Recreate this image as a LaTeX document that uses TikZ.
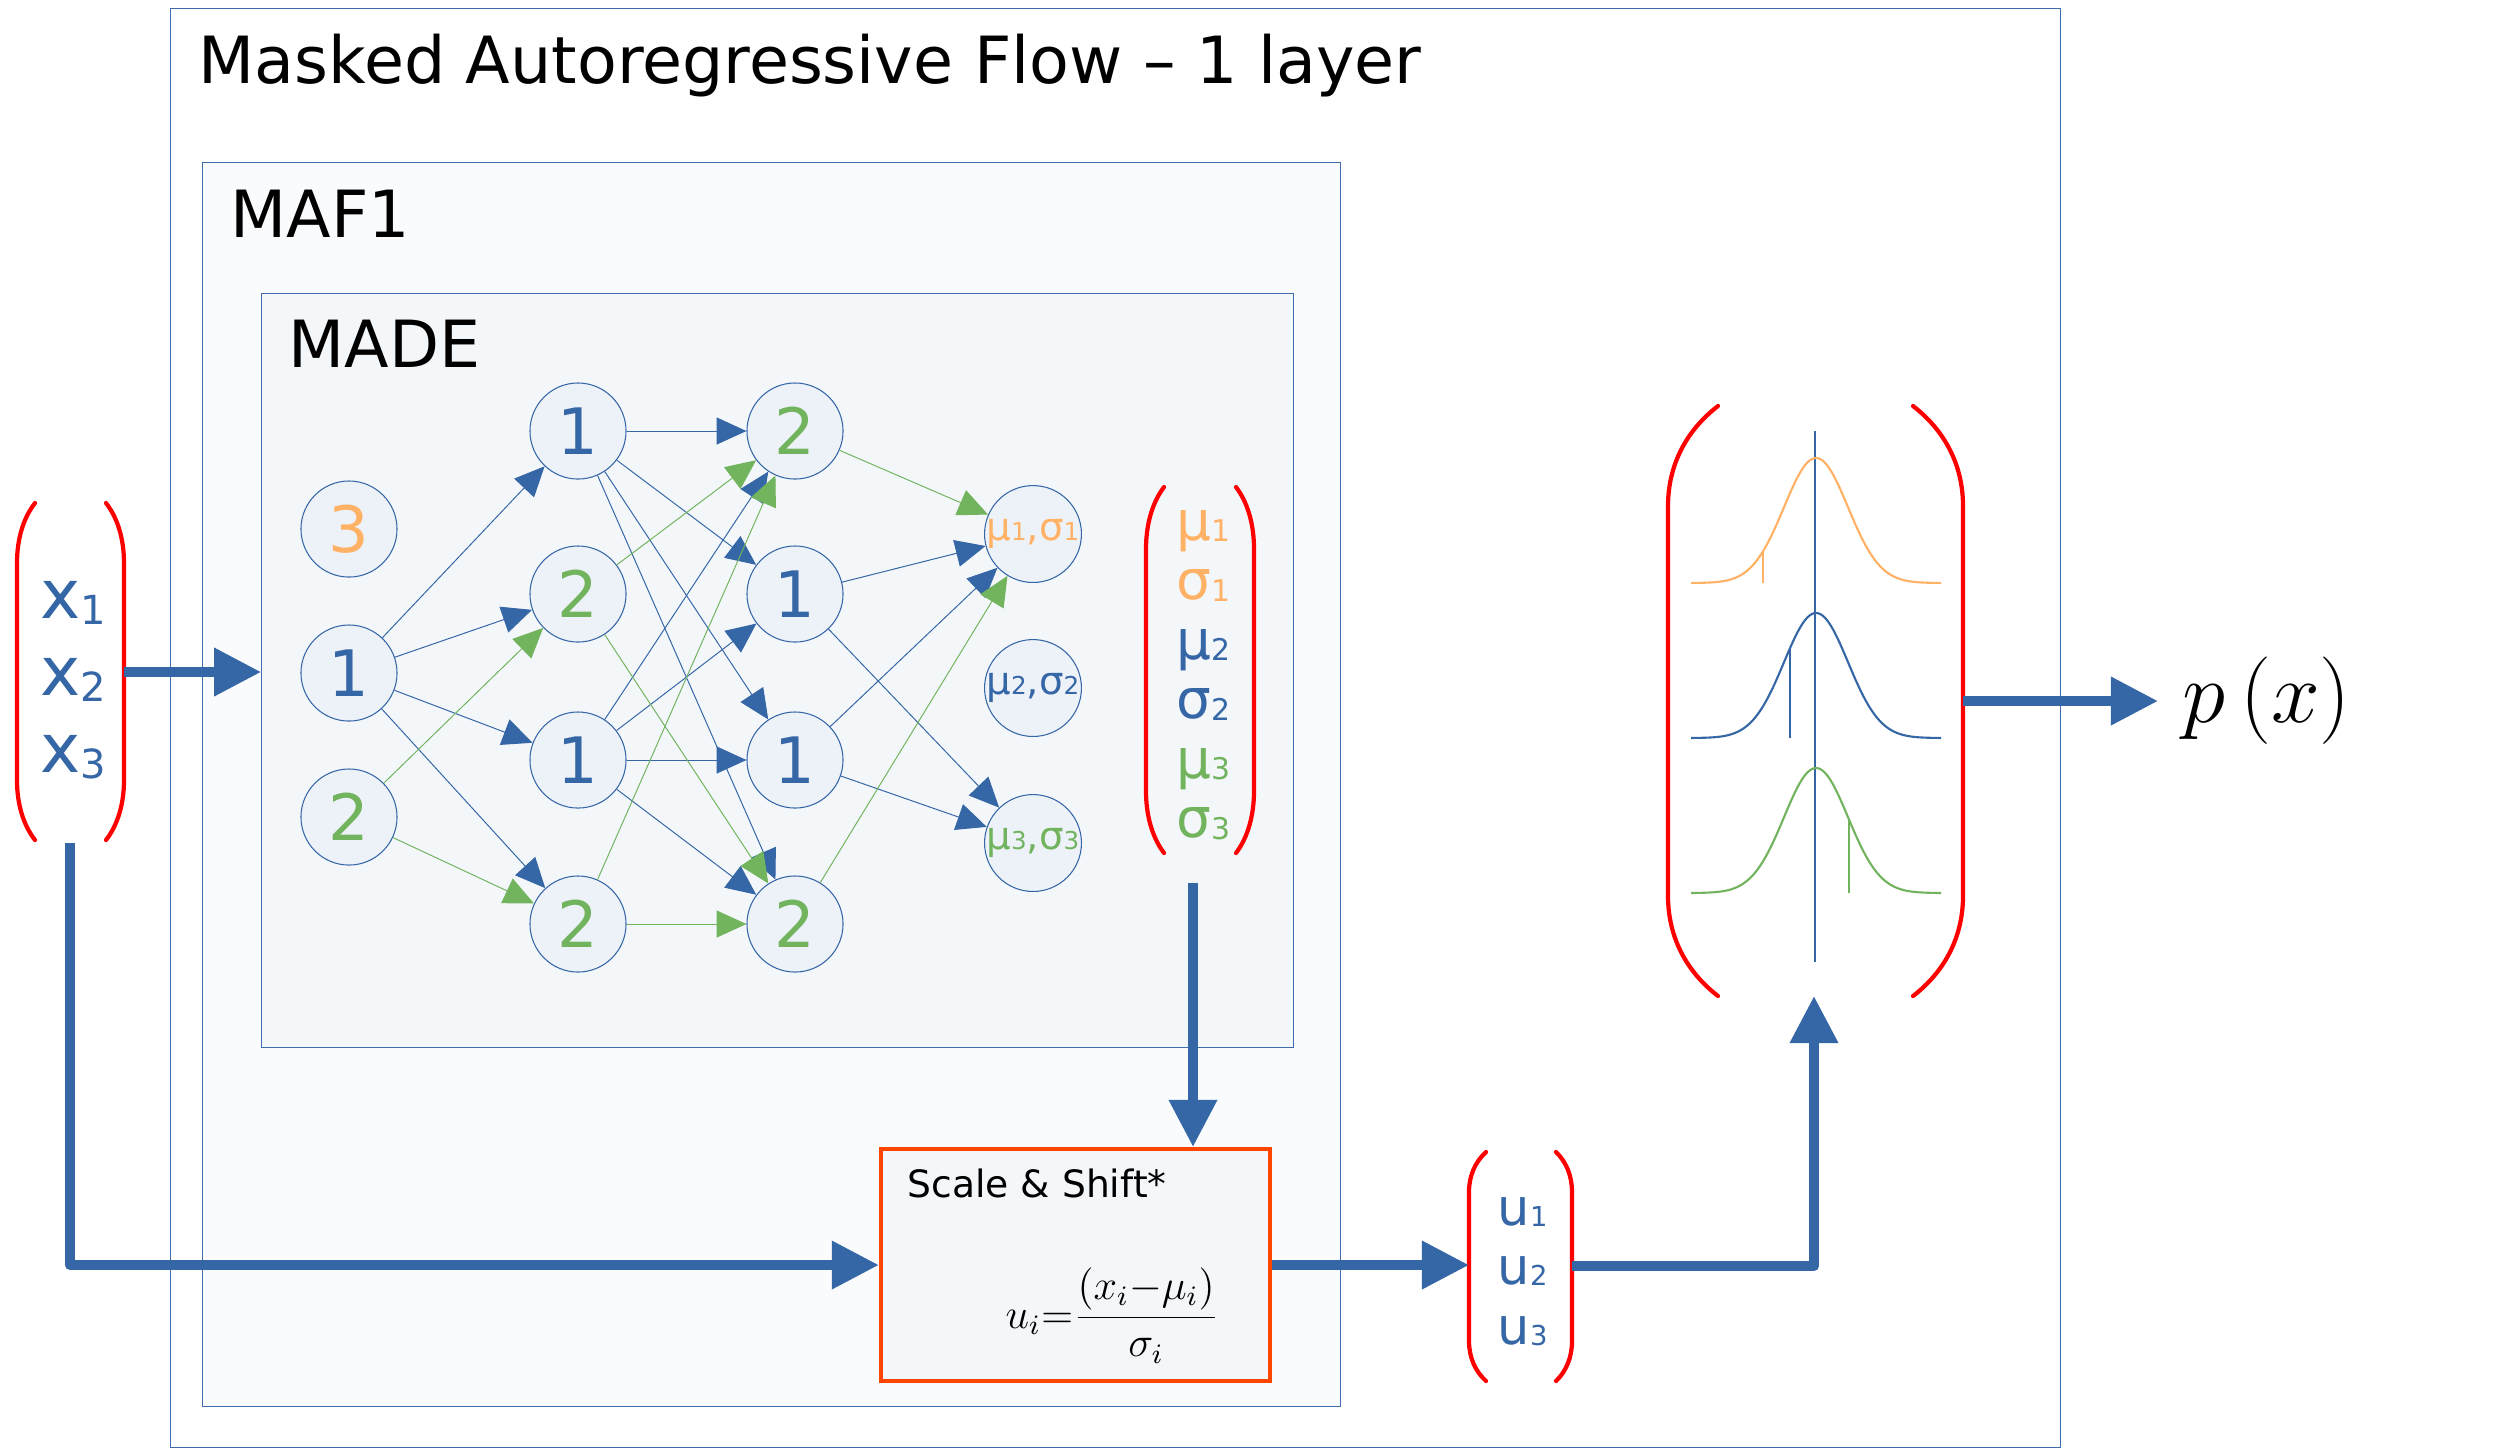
\documentclass[tikz,border=0pt]{standalone}
\usepackage{fontspec}
\setmainfont{DejaVu Sans}
\usetikzlibrary{arrows.meta}
\definecolor{mblue}{HTML}{3566A6}
\definecolor{mgreen}{HTML}{72B45E}
\definecolor{morange}{HTML}{FFB265}
\definecolor{mred}{HTML}{FF0000}
\definecolor{sred}{HTML}{FF4500}
\definecolor{cfill}{HTML}{EDF2F9}
\definecolor{madefill}{HTML}{F4F7FA}
\definecolor{maffill}{HTML}{F9FBFD}
\definecolor{boxline}{HTML}{3F6CAC}
\newcommand{\fs}[1]{\fontsize{#1}{#1}\selectfont}
\newcommand{\sdig}[3]{\raisebox{-#2}{\fs{#1}#3}}
% left x, left end x, right end x, right x, top y, bottom y, curve length
\newcommand{\parpair}[7]{%
  \draw[bracket] (#2,#5) .. controls ({#1+0.35*(#2-#1)},{#5+0.25*#7}) and (#1,{#5+0.6*#7}) .. (#1,{#5+#7}) -- (#1,{#6-#7}) .. controls (#1,{#6-0.6*#7}) and ({#1+0.35*(#2-#1)},{#6-0.25*#7}) .. (#2,#6);
  \draw[bracket] (#3,#5) .. controls ({#4+0.35*(#3-#4)},{#5+0.25*#7}) and (#4,{#5+0.6*#7}) .. (#4,{#5+#7}) -- (#4,{#6-#7}) .. controls (#4,{#6-0.6*#7}) and ({#4+0.35*(#3-#4)},{#6-0.25*#7}) .. (#3,#6);
}
\tikzset{
  neuron/.style={circle, draw=mblue, line width=0.3pt, fill=cfill, minimum size=0.96cm, inner sep=0pt, font=\fs{18.2pt}},
  outneuron/.style={neuron, font=\fs{11pt}},
  edgeb/.style={mblue, line width=0.28pt, -{Triangle[length=8.5pt,width=7.7pt]}},
  edgeg/.style={mgreen, line width=0.28pt, -{Triangle[length=8.5pt,width=7.7pt]}},
  bigarrow/.style={mblue, line width=2.85pt, line join=round, -{Triangle[length=13.4pt,width=13.1pt]}},
  bracket/.style={mred, line width=1.2pt, line cap=round},
  txt/.style={inner sep=0pt},
  frame/.style={draw=boxline, line width=0.3pt, inner sep=0pt},
}
\begin{document}
\begin{tikzpicture}[x=0.01cm,y=-0.01cm]
\useasboundingbox (0,0) rectangle (2500,1453);
\fill[white] (0,0) rectangle (2500,1453);

% frames
\node[frame, fill=white, minimum width=18.89cm, minimum height=14.38cm] (outer) at (1115.5,728) {};
\node[frame, fill=maffill, minimum width=11.37cm, minimum height=12.43cm] (maf) at (771.5,784.5) {};
\node[frame, fill=madefill, minimum width=10.31cm, minimum height=7.53cm] (made) at (777.5,670.5) {};

\node[txt, anchor=base west, font=\fs{18.5pt}] (title) at (198,83) {Masked Autoregressive Flow – 1 layer};
\node[txt, anchor=base west, font=\fs{18.5pt}] (maflabel) at (230,237) {MAF1};
\node[txt, anchor=base west, font=\fs{18.5pt}] (madelabel) at (288,367) {MADE};

% neurons
\node[neuron, text=morange] (i3) at (349,529) {3};
\node[neuron, text=mblue]   (i1) at (349,673) {1};
\node[neuron, text=mgreen]  (i2) at (349,817) {2};
\node[neuron, text=mblue]   (ha) at (578,431) {1};
\node[neuron, text=mgreen]  (hb) at (578,594) {2};
\node[neuron, text=mblue]   (hc) at (578,760) {1};
\node[neuron, text=mgreen]  (hd) at (578,924) {2};
\node[neuron, text=mgreen]  (ka) at (795,431) {2};
\node[neuron, text=mblue]   (kb) at (795,594) {1};
\node[neuron, text=mblue]   (kc) at (795,760) {1};
\node[neuron, text=mgreen]  (kd) at (795,924) {2};
\node[outneuron, text=morange] (o1) at (1033,534) {μ{\fs{7pt}1},σ{\fs{7pt}1}};
\node[outneuron, text=mblue]   (o2) at (1033,688) {μ{\fs{7pt}2},σ{\fs{7pt}2}};
\node[outneuron, text=mgreen]  (o3) at (1033,843) {μ{\fs{7pt}3},σ{\fs{7pt}3}};

% edges
\foreach \t in {ha,hb,hc,hd} \draw[edgeb] (i1) -- (\t);
\foreach \t in {hb,hd} \draw[edgeg] (i2) -- (\t);
\foreach \t in {ka,kb,kc,kd} \draw[edgeb] (ha) -- (\t);
\foreach \t in {ka,kb,kc,kd} \draw[edgeb] (hc) -- (\t);
\foreach \t in {ka,kd} \draw[edgeg] (hb) -- (\t);
\foreach \t in {ka,kd} \draw[edgeg] (hd) -- (\t);
\draw[edgeb] (kb) -- (o1);
\draw[edgeb] (kc) -- (o1);
\draw[edgeb] (kb) -- (o3);
\draw[edgeb] (kc) -- (o3);
\draw[edgeg] (ka) -- (o1);
\draw[edgeg] (kd) -- (o1);

% x vector
\parpair{17}{35}{106}{124}{503}{840}{60}
\node[txt, anchor=base west, text=mblue, font=\fs{19.3pt}] (x1) at (40,618) {x\sdig{11.4pt}{1.7pt}{1}};
\node[txt, anchor=base west, text=mblue, font=\fs{19.3pt}] (x2) at (40,695) {x\sdig{11.4pt}{1.7pt}{2}};
\node[txt, anchor=base west, text=mblue, font=\fs{19.3pt}] (x3) at (40,772) {x\sdig{11.4pt}{1.7pt}{3}};
\coordinate (xR) at (124,672);
\coordinate (xbot) at (70,843);

% mu sigma vector
\parpair{1146}{1164}{1236}{1254}{487}{853}{62}
\node[txt, anchor=base west, text=morange, font=\fs{15.6pt}] (m1) at (1176,540) {μ\sdig{8.5pt}{0.3pt}{1}};
\node[txt, anchor=base west, text=morange, font=\fs{15.6pt}] (s1) at (1176,599) {σ\sdig{8.5pt}{0.6pt}{1}};
\node[txt, anchor=base west, text=mblue, font=\fs{15.6pt}] (m2) at (1176,659) {μ\sdig{8.5pt}{0.3pt}{2}};
\node[txt, anchor=base west, text=mblue, font=\fs{15.6pt}] (s2) at (1176,718) {σ\sdig{8.5pt}{0.6pt}{2}};
\node[txt, anchor=base west, text=mgreen, font=\fs{15.6pt}] (m3) at (1176,778) {μ\sdig{8.5pt}{0.3pt}{3}};
\node[txt, anchor=base west, text=mgreen, font=\fs{15.6pt}] (s3) at (1176,837) {σ\sdig{8.5pt}{0.6pt}{3}};
\coordinate (mubot) at (1193,883);

% scale & shift
\node[draw=sred, line width=1.15pt, fill=madefill, minimum width=3.89cm, minimum height=2.32cm, inner sep=0pt] (scale) at (1075.5,1265) {};
\node[txt, anchor=base west, font=\fs{10.7pt}] (scaletitle) at (907,1197) {Scale \& Shift*};
\node[txt, anchor=base west, font=\fs{12pt}] (formula) at (1005,1328) {$\displaystyle u_i{=}\frac{\left(x_i{-}\mu_i\right)}{\sigma_i}$};

% u vector
\parpair{1469}{1486}{1556}{1572}{1152}{1381}{40}
\node[txt, anchor=base west, text=mblue, font=\fs{14.5pt}] (u1) at (1497,1225) {u\sdig{7.8pt}{0.5pt}{1}};
\node[txt, anchor=base west, text=mblue, font=\fs{14.5pt}] (u2) at (1497,1284) {u\sdig{7.8pt}{0.5pt}{2}};
\node[txt, anchor=base west, text=mblue, font=\fs{14.5pt}] (u3) at (1497,1344) {u\sdig{7.8pt}{0.5pt}{3}};
\coordinate (uL) at (1469,1265);
\coordinate (uR) at (1572,1266);

% big bracket with gaussians
\parpair{1668}{1718}{1913}{1963}{406}{996}{100}
\draw[mblue, line width=0.3pt] (1815,431) -- (1815,962);
\foreach \yb/\col/\dx in {583/morange/-53, 738/mblue/-26, 893/mgreen/33} {
  \draw[\col, line width=0.6pt] plot[domain=-125:125, samples=121, smooth] ({1816+\x},{\yb-125*exp(-0.5*(\x/32)^2)});
  \draw[\col, line width=0.3pt] ({1816+\dx},\yb) -- ({1816+\dx},{\yb-125*exp(-0.5*(\dx/32)^2)});
}
\coordinate (bigbot) at (1814,996);
\coordinate (bigR) at (1963,701);

\node[anchor=west, inner xsep=0.24cm, inner ysep=0pt, font=\fs{27pt}] (px) at (2158,701) {$p\left(x\right)$};

% big arrows
\draw[bigarrow] (xR) -- (xR -| made.west);
\draw[bigarrow] (xbot) |- (scale.west);
\draw[bigarrow] (mubot) -- (mubot |- scale.north);
\draw[bigarrow] (scale.east) -- (uL);
\draw[bigarrow] (uR) -| (bigbot);
\draw[bigarrow] (bigR) -- (px.west);
\end{tikzpicture}
\end{document}
